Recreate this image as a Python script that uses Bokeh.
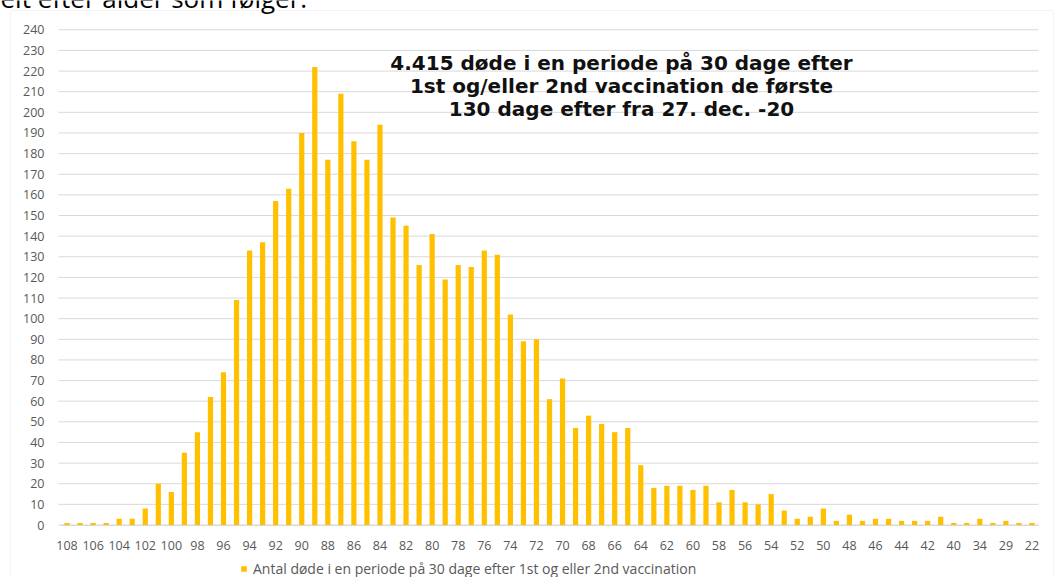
from bokeh.plotting import figure
from bokeh.models import (Range1d, FixedTicker, Label, BoxAnnotation, Legend,
                          LegendItem, ColumnDataSource)
from bokeh.embed import file_html
from bokeh.resources import INLINE

# ---------------- data ----------------
ages = ["108", "107", "106", "105", "104", "103", "102", "101", "100", "99",
        "98", "97", "96", "95", "94", "93", "92", "91", "90", "89",
        "88", "87", "86", "85", "84", "83", "82", "81", "80", "79",
        "78", "77", "76", "75", "74", "73", "72", "71", "70", "69",
        "68", "67", "66", "65", "64", "63", "62", "61", "60", "59",
        "58", "57", "56", "55", "54", "53", "52", "51", "50", "49",
        "48", "47", "46", "45", "44", "43", "42", "41", "40", "37",
        "34", "31", "29", "25", "22"]
deaths = [1, 1, 1, 1, 3, 3, 8, 20, 16, 35,
          45, 62, 74, 109, 133, 137, 157, 163, 190, 222,
          177, 209, 186, 177, 194, 149, 145, 126, 141, 119,
          126, 125, 133, 131, 102, 89, 90, 61, 71, 47,
          53, 49, 45, 47, 29, 18, 19, 19, 17, 19,
          11, 17, 11, 10, 15, 7, 3, 4, 8, 2,
          5, 2, 3, 3, 2, 2, 2, 4, 1, 1,
          3, 1, 2, 1, 1]
y_ticks = [0, 10, 20, 30, 40, 50, 60, 70, 80, 90, 100, 110, 120, 130, 140,
           150, 160, 170, 180, 190, 200, 210, 220, 230, 240]
title_lines = ["4.415 døde i en periode på 30 dage efter",
               "1st og/eller 2nd vaccination de første",
               "130 dage efter fra 27. dec. -20"]
legend_label = "Antal døde i en periode på 30 dage efter 1st og eller 2nd vaccination"
top_text = "elt efter alder som følger:"

# ---------------- layout constants (canvas px) ----------------
W, H = 1056, 577
PL, PR = 60.0, 1038.0      # plot area left / right
PT, PB = 29.3, 524.5       # y=240 / y=0
n = len(ages)
ymax = 240
kx = (PR - PL) / n
ky = (PB - PT) / ymax

def xd(px):
    return (px - PL) / kx - 0.5

def yd(py):
    return (PB - py) / ky

p = figure(width=W, height=H,
           x_range=Range1d(xd(0), xd(W)), y_range=Range1d(yd(H), yd(0)),
           output_backend="svg", toolbar_location=None,
           min_border_left=0, min_border_right=0,
           min_border_top=0, min_border_bottom=0)
p.outline_line_color = None
p.background_fill_color = "white"
p.border_fill_color = "white"
p.xgrid.visible = False
p.ygrid.visible = False

# horizontal gridlines at the y ticks, limited to the plot area
p.segment(x0=xd(58), x1=n - 0.5, y0=y_ticks, y1=y_ticks,
          line_color="#d9d9d9", line_width=1)

src = ColumnDataSource(dict(x=list(range(n)), top=deaths, age=ages))
bars = p.vbar(x="x", top="top", width=0.4, source=src,
              fill_color="#FFC000", line_color=None)

# axes (fixed inside the frame so that decorations outside can be drawn)
lab_font = "Open Sans"
p.yaxis.fixed_location = -0.5
p.yaxis.bounds = (0, ymax)
p.yaxis.ticker = FixedTicker(ticks=y_ticks)
p.yaxis.axis_line_color = None
p.yaxis.major_tick_line_color = None
p.yaxis.minor_tick_line_color = None
p.yaxis.major_label_standoff = 10
p.yaxis.major_label_text_font = lab_font
p.yaxis.major_label_text_font_size = "12.5px"
p.yaxis.major_label_text_color = "#595959"

even = list(range(0, n, 2))
p.xaxis.fixed_location = 0
p.xaxis.bounds = (-0.5, n - 0.5)
p.xaxis.ticker = FixedTicker(ticks=even)
p.xaxis.major_label_overrides = {i: ages[i] for i in even}
p.xaxis.axis_line_color = "#d9d9d9"
p.xaxis.major_tick_line_color = None
p.xaxis.minor_tick_line_color = None
p.xaxis.major_label_standoff = 10
p.xaxis.major_label_text_font = lab_font
p.xaxis.major_label_text_font_size = "12.5px"
p.xaxis.major_label_text_color = "#595959"

# legend at the bottom
legend = Legend(items=[LegendItem(label=legend_label, renderers=[bars])],
                location=(240, -1), orientation="horizontal",
                border_line_color=None, background_fill_alpha=0,
                label_text_font=lab_font, label_text_font_size="14px",
                label_text_color="#595959", glyph_width=7, glyph_height=7,
                label_standoff=6, padding=0, margin=0, spacing=0,
                label_height=14)
p.add_layout(legend)

# chart border
p.add_layout(BoxAnnotation(left=xd(10), right=xd(1053), top=yd(10),
                           bottom=yd(600), fill_alpha=0,
                           line_color="#d9d9d9", line_width=1))

# title lines
for i, t in enumerate(title_lines):
    p.add_layout(Label(x=xd(621), y=yd(62 + 23 * i), text=t,
                       text_align="center", text_baseline="middle",
                       text_font="DejaVu Sans", text_font_style="bold",
                       text_font_size="20px", text_color="#111111"))

# partial top text (cut off by the top edge)
p.add_layout(Label(x=xd(0), y=yd(-3), text=top_text, text_align="left",
                   text_baseline="alphabetic", text_font="Open Sans",
                   text_font_size="26px", text_color="#000000"))

open("out.html", "w").write(file_html(p, INLINE))
